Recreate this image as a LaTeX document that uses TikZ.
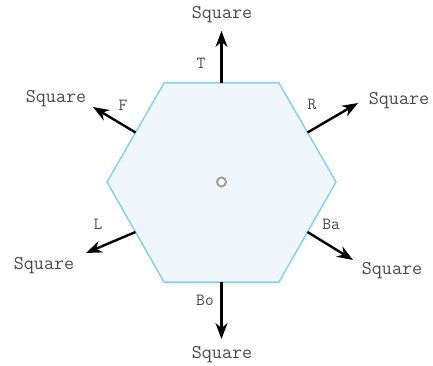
\documentclass[tikz,border=0pt]{standalone}
\usetikzlibrary{arrows.meta}
\definecolor{hexfill}{HTML}{EFF7FD}
\definecolor{hexline}{HTML}{8ACFEE}
\definecolor{txt}{HTML}{4A4A4A}
\tikzset{
  sqlabel/.style={font=\ttfamily\fontsize{19.5}{19.5}\selectfont, text=txt, inner sep=0pt},
  sidelabel/.style={font=\ttfamily\fontsize{17}{17}\selectfont, text=txt, inner sep=0pt},
  outarrow/.style={draw=black, line width=2.4pt, -{Stealth[length=16pt,width=12pt]}},
}
\begin{document}
\begin{tikzpicture}[x=1pt,y=-1pt]
\useasboundingbox (0,0) rectangle (433,366);
\coordinate (v1) at (164,83);
\coordinate (v2) at (279,83);
\coordinate (v3) at (336,182);
\coordinate (v4) at (279,282);
\coordinate (v5) at (164,282);
\coordinate (v6) at (107,182);
\draw[hexline, fill=hexfill, line width=1.5pt, line join=miter] (v1) -- (v2) -- (v3) -- (v4) -- (v5) -- (v6) -- cycle;
\node[circle, draw=gray!75, line width=2pt, fill=white, minimum size=9pt, inner sep=0pt] (c) at (221.5,182) {};
% edge midpoints
\coordinate (mT) at (221.5,83);
\coordinate (mR) at (307.5,132.5);
\coordinate (mBa) at (307.5,232);
\coordinate (mBo) at (221.5,282);
\coordinate (mL) at (135.5,232);
\coordinate (mF) at (135.5,132.5);
% tips
\coordinate (tT) at (221.5,31);
\coordinate (tR) at (358,103);
\coordinate (tBa) at (353,260);
\coordinate (tBo) at (221.5,339);
\coordinate (tL) at (86,253);
\coordinate (tF) at (93,107);
\draw[outarrow] (mT) -- (tT);
\draw[outarrow] (mR) -- (tR);
\draw[outarrow] (mBa) -- (tBa);
\draw[outarrow] (mBo) -- (tBo);
\draw[outarrow] (mL) -- (tL);
\draw[outarrow] (mF) -- (tF);
% Square labels
\node[sqlabel] (sT) at (222,15) {Square};
\node[sqlabel] (sR) at (399,101) {Square};
\node[sqlabel] (sBa) at (392,271) {Square};
\node[sqlabel] (sBo) at (222,355) {Square};
\node[sqlabel] (sL) at (44,266) {Square};
\node[sqlabel] (sF) at (56,99) {Square};
% side labels
\node[sidelabel] (lT) at (201,63) {T};
\node[sidelabel] (lR) at (312,104) {R};
\node[sidelabel] (lBa) at (331,224) {Ba};
\node[sidelabel] (lBo) at (205,300) {Bo};
\node[sidelabel] (lL) at (98,224) {L};
\node[sidelabel] (lF) at (123,105) {F};
\end{tikzpicture}
\end{document}
